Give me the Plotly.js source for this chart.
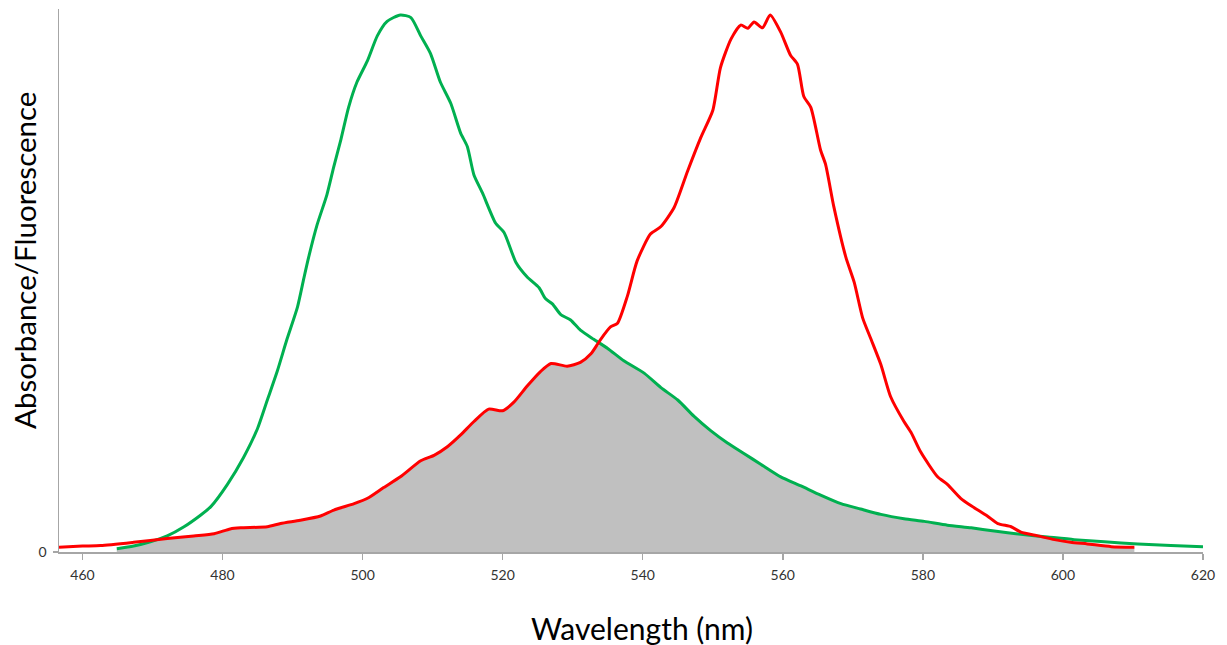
<!DOCTYPE html>
<html>
<head>
<meta charset="utf-8">
<script src="https://cdn.plot.ly/plotly-3.0.1.min.js"></script>
<style>html,body{margin:0;padding:0;background:#fff;}#chart{width:1227px;height:645px;}</style>
</head>
<body>
<div id="chart"></div>
<script>
// Absorbance (green) spectrum, wavelength in nm, arbitrary units
var absWavelength = [464.9,467.3,469.7,472.1,474.5,476.9,478.3,480.7,483.0,485.0,486.4,487.8,489.2,490.7,491.6,492.3,493.5,494.9,495.9,496.9,498.0,499.2,500.7,502.1,503.5,505.4,506.9,508.3,509.7,511.1,512.6,514.0,514.95,515.9,517.1,519.0,520.2,521.9,523.5,525.2,526.1,527.1,528.3,529.7,531.1,533.0,535.0,537.3,540.2,542.6,545.0,547.3,549.7,552.1,554.5,556.9,559.7,562.6,565.4,568.3,571.1,574.0,577.3,580.2,583.5,586.9,590.2,594.0,597.8,601.6,605.9,610.7,615.4,620.0];
var absValues = [0.6,1.1,1.9,3.0,4.7,6.9,8.4,12.6,17.6,23.0,28.3,33.6,39.6,45.6,50.9,54.9,60.9,66.5,71.8,76.8,82.8,87.5,91.5,96.1,98.8,100,99.5,96.1,92.8,87.5,83.5,78.0,75.5,70.2,66.9,61.2,59.5,53.9,51.2,49.2,47.2,46.2,44.2,43.2,41.3,39.6,37.9,35.6,33.3,30.6,28.3,25.3,22.6,20.3,18.3,16.3,14.0,12.3,10.6,9.0,8.0,7.0,6.2,5.7,5.0,4.5,3.9,3.3,2.8,2.3,1.9,1.5,1.2,1.0];

// Fluorescence (red) spectrum
var fluWavelength = [456.65,460.0,462.6,467.3,472.1,475.9,478.8,481.1,482.6,486.4,488.3,491.1,494.0,495.9,498.8,500.7,503.0,505.4,508.3,510.2,512.1,514.0,515.9,518.0,520.0,521.6,523.5,525.4,526.9,529.2,531.1,532.6,534.0,535.4,536.4,537.8,539.2,541.1,542.6,544.5,546.4,548.3,550.0,551.1,552.6,554.0,555.0,555.9,557.1,558.2,559.7,561.1,562.1,563.0,564.0,565.4,566.1,567.3,569.0,570.2,571.4,572.6,574.0,575.4,577.3,578.3,579.7,582.1,583.5,585.4,586.9,589.2,590.7,592.6,594.0,596.4,598.8,601.1,603.5,606.9,610.2];
var fluValues = [0.9,1.1,1.2,1.8,2.5,3.0,3.4,4.3,4.5,4.7,5.3,5.9,6.7,7.8,9.0,10.0,12.0,14.0,17.0,18.0,19.6,21.8,24.3,26.6,26.3,27.9,30.9,33.6,35.1,34.6,35.3,36.9,39.6,41.9,42.6,47.6,54.2,59.2,60.6,64.2,70.9,77.2,82.2,90.2,95.5,98.1,97.5,98.7,97.6,100,96.8,92.5,90.8,84.8,82.8,74.8,72.2,64.2,54.9,50.2,43.6,39.6,34.9,28.9,24.3,22.3,18.6,14.0,12.6,10.0,8.6,6.7,5.3,4.7,3.7,3.0,2.3,1.8,1.5,1.0,0.9];

var xTickVals = [460,480,500,520,540,560,580,600,620];
var xTitle = 'Wavelength (nm)';
var yTitle = 'Absorbance/Fluorescence';

// Overlap region: minimum of the two spectra where both are defined
function interp(xs, ys, x) {
  for (var i = 0; i < xs.length - 1; i++) {
    if (x >= xs[i] && x <= xs[i+1]) {
      var t = (x - xs[i]) / (xs[i+1] - xs[i]);
      return ys[i] + t * (ys[i+1] - ys[i]);
    }
  }
  return null;
}
var lo = Math.max(absWavelength[0], fluWavelength[0]);
var hi = Math.min(absWavelength[absWavelength.length-1], fluWavelength[fluWavelength.length-1]);
var grid = absWavelength.concat(fluWavelength).filter(function(x){return x>=lo && x<=hi;}).sort(function(a,b){return a-b;});
var ovX = [], ovY = [];
grid.forEach(function(x){
  var a = interp(absWavelength, absValues, x), f = interp(fluWavelength, fluValues, x);
  if (a !== null && f !== null) { ovX.push(x); ovY.push(Math.min(a, f)); }
});

var traces = [
  {x: ovX, y: ovY, type: 'scatter', mode: 'lines', fill: 'tozeroy', fillcolor: '#c0c0c0', line: {width: 0, color: '#c0c0c0'}, hoverinfo: 'skip', showlegend: false},
  {x: absWavelength, y: absValues, type: 'scatter', mode: 'lines', name: 'Absorbance', line: {color: '#00b050', width: 3, shape: 'spline', smoothing: 0.6}, showlegend: false},
  {x: fluWavelength, y: fluValues, type: 'scatter', mode: 'lines', name: 'Fluorescence', line: {color: '#ff0000', width: 3, shape: 'spline', smoothing: 0.6}, showlegend: false}
];

var fam = 'Lato, "Open Sans", sans-serif';
var axisFont = {family: fam, size: 14, color: '#333'};
var layout = {
  width: 1227, height: 645,
  margin: {l: 59, r: 24, t: 9, b: 93},
  paper_bgcolor: '#fff', plot_bgcolor: '#fff',
  showlegend: false,
  xaxis: {
    range: [456.65, 620], tickvals: xTickVals, ticktext: xTickVals.map(String),
    showgrid: false, zeroline: false, showline: true, linecolor: '#a6a6a6', linewidth: 1.5,
    ticks: 'outside', ticklen: 6, tickcolor: '#a6a6a6', tickwidth: 1.5,
    tickfont: axisFont, ticklabelstandoff: 4
  },
  yaxis: {
    range: [0, 101.1], tickvals: [0], ticktext: ['0'],
    showgrid: false, zeroline: false, showline: true, linecolor: '#a6a6a6', linewidth: 1.5,
    ticks: 'outside', ticklen: 5, tickcolor: '#a6a6a6', tickwidth: 1.5,
    tickfont: axisFont, ticklabelstandoff: 3
  },
  annotations: [
    {text: xTitle, xref: 'paper', yref: 'paper', x: 0.5096, y: 0, xanchor: 'center', yanchor: 'middle', yshift: -76, showarrow: false, font: {family: fam, size: 30, color: '#000'}},
    {text: yTitle, xref: 'paper', yref: 'paper', x: 0, y: 0.536, xanchor: 'center', yanchor: 'middle', xshift: -34, textangle: -90, showarrow: false, font: {family: fam, size: 29.5, color: '#000'}}
  ]
};
Plotly.newPlot('chart', traces, layout, {displayModeBar: false, staticPlot: true});
</script>
</body>
</html>
